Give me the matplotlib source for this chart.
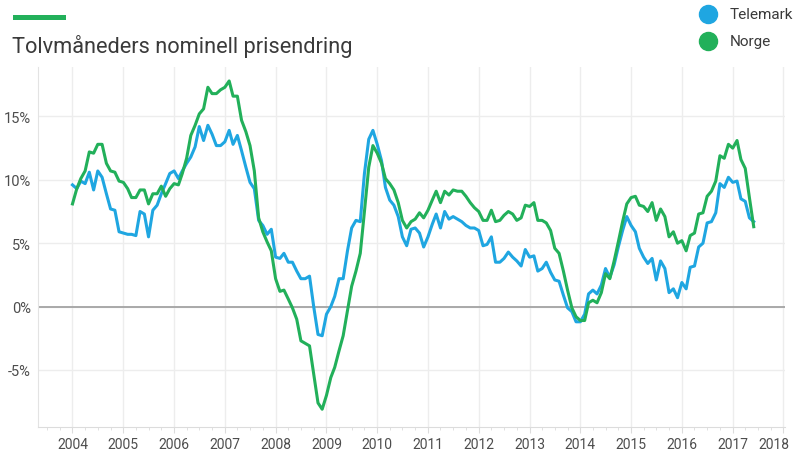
import matplotlib
matplotlib.use("Agg")
import matplotlib.pyplot as plt
import matplotlib.dates as mdates
from matplotlib.lines import Line2D
from matplotlib.patches import Rectangle
import matplotlib.transforms as mtransforms
import numpy as np
import pandas as pd

# ---------------- data ----------------
title = "Tolvmåneders nominell prisendring"
series_names = ["Telemark", "Norge"]
start_month = "2004-01-01"

telemark = [
    9.6, 9.3, 9.9, 9.7, 10.6, 9.2, 10.7, 10.2, 8.9, 7.7, 7.6, 5.9,        # 2004
    5.8, 5.7, 5.7, 5.6, 7.5, 7.3, 5.5, 7.6, 8.0, 8.9, 9.7, 10.5,          # 2005
    10.7, 10.1, 10.7, 11.3, 11.8, 12.6, 14.2, 13.1, 14.3, 13.6, 12.7, 12.7,  # 2006
    13.0, 13.9, 12.8, 13.5, 12.3, 11.0, 9.8, 9.3, 6.8, 6.4, 5.7, 6.1,     # 2007
    3.9, 3.8, 4.2, 3.5, 3.5, 2.8, 2.2, 2.2, 2.4, 0.0, -2.2, -2.3,         # 2008
    -0.6, 0.0, 0.8, 2.2, 2.2, 4.4, 6.2, 6.8, 6.7, 10.5, 13.2, 13.9,       # 2009
    12.8, 11.5, 9.4, 8.4, 8.0, 7.1, 5.5, 4.8, 6.1, 6.2, 5.8, 4.7,         # 2010
    5.5, 6.5, 7.3, 6.2, 7.5, 6.9, 7.1, 6.9, 6.7, 6.4, 6.2, 6.2,           # 2011
    6.0, 4.8, 4.9, 5.5, 3.5, 3.5, 3.8, 4.3, 3.9, 3.6, 3.2, 4.5,           # 2012
    3.9, 4.0, 2.8, 3.0, 3.5, 2.7, 2.1, 2.0, 0.9, -0.1, -0.4, -1.2,        # 2013
    -1.2, -0.6, 1.0, 1.3, 1.0, 1.7, 3.0, 2.3, 3.3, 4.7, 6.0, 7.1,         # 2014
    6.4, 5.9, 4.6, 3.9, 3.4, 3.8, 2.1, 3.6, 3.0, 1.1, 1.4, 0.7,           # 2015
    1.9, 1.4, 3.1, 3.2, 4.7, 5.0, 6.6, 6.7, 7.4, 9.7, 9.4, 10.2,          # 2016
    9.8, 9.9, 8.5, 8.3, 7.0, 6.7,                                         # 2017
]

norge = [
    8.1, 9.3, 10.1, 10.7, 12.2, 12.1, 12.8, 12.8, 11.3, 10.7, 10.6, 9.9,  # 2004
    9.8, 9.3, 8.6, 8.6, 9.2, 9.2, 8.1, 8.9, 8.9, 9.5, 8.7, 9.3,           # 2005
    9.7, 9.6, 10.5, 11.7, 13.5, 14.3, 15.2, 15.6, 17.3, 16.8, 16.8, 17.1, # 2006
    17.3, 17.8, 16.6, 16.6, 14.7, 13.8, 12.7, 10.7, 7.0, 5.9, 5.1, 4.4,   # 2007
    2.2, 1.2, 1.3, 0.6, -0.1, -1.0, -2.7, -2.9, -3.1, -5.3, -7.6, -8.1,   # 2008
    -7.0, -5.6, -4.8, -3.5, -2.3, -0.3, 1.6, 2.8, 4.2, 7.5, 11.0, 12.7,   # 2009
    12.1, 11.3, 10.1, 9.7, 9.2, 8.2, 6.8, 6.2, 6.7, 6.9, 7.4, 7.0,        # 2010
    7.6, 8.4, 9.1, 8.2, 9.1, 8.8, 9.2, 9.1, 9.1, 8.7, 8.2, 7.8,           # 2011
    7.5, 6.8, 6.8, 7.6, 6.7, 6.8, 7.2, 7.5, 7.3, 6.8, 7.0, 8.0,           # 2012
    7.9, 8.2, 6.8, 6.8, 6.6, 6.0, 4.6, 4.2, 2.8, 1.3, -0.1, -0.8,         # 2013
    -1.1, -1.1, 0.3, 0.5, 0.3, 1.1, 2.6, 2.2, 3.6, 5.1, 6.7, 8.1,         # 2014
    8.6, 8.7, 8.0, 7.9, 7.5, 8.2, 6.8, 7.7, 7.1, 5.5, 5.9, 5.0,           # 2015
    5.2, 4.4, 5.6, 5.8, 7.3, 7.4, 8.7, 9.1, 9.9, 11.9, 11.7, 12.8,        # 2016
    12.5, 13.1, 11.6, 10.9, 8.6, 6.3,                                     # 2017
]

year_ticks = list(range(2004, 2019))
y_ticks = [-5, 0, 5, 10, 15]

# ---------------- style ----------------
c_tel = "#1fa6e1"
c_nor = "#22b05a"
txt_col = "#3a3a3a"
tick_col = "#4d4d4d"
grid_col = "#ededed"
FONT = ["Roboto", "DejaVu Sans"]

months = pd.date_range(start_month, periods=len(telemark), freq="MS")

fig = plt.figure(figsize=(7.98, 4.52), dpi=100)
W, H = 798, 452
ax = fig.add_axes([38 / W, 1 - 428 / H, (785 - 38) / W, (428 - 68) / H])

ax.plot(months, telemark, color=c_tel, lw=2.2, solid_joinstyle="round", zorder=3)
ax.plot(months, norge, color=c_nor, lw=2.2, solid_joinstyle="round", zorder=4)

ax.set_xlim(pd.Timestamp("2003-04-28"), pd.Timestamp("2018-01-12"))
ax.set_ylim(-9.5, 18.9)

# grid
ax.set_xticks([pd.Timestamp(f"{y}-01-01") for y in year_ticks])
ax.set_xticklabels([str(y) for y in year_ticks])
ax.xaxis.set_minor_locator(mdates.MonthLocator(bymonth=[4, 7, 10]))
ax.set_yticks(y_ticks)
ax.set_yticklabels([f"{v}%" for v in y_ticks])
ax.grid(True, which="major", color=grid_col, lw=1.0, zorder=0)
ax.axhline(0, color="#a3a3a3", lw=1.3, zorder=2)

for s in ["top", "right"]:
    ax.spines[s].set_visible(False)
ax.spines["left"].set_color("#e3e3e3")
ax.spines["bottom"].set_color("#dcdcdc")

ax.tick_params(axis="y", which="both", length=0, pad=5, labelsize=10.5,
               labelcolor=tick_col)
ax.tick_params(axis="x", which="major", length=4, color="#dcdcdc", pad=3,
               labelsize=10, labelcolor=tick_col)
ax.tick_params(axis="x", which="minor", length=2.5, color="#dcdcdc")
for lab in ax.get_xticklabels() + ax.get_yticklabels():
    lab.set_fontfamily(FONT)

# last year label squeezed inside
last = ax.get_xticklabels()[-1]
last.set_horizontalalignment("right")
last.set_transform(last.get_transform() +
                   mtransforms.ScaledTranslation(4 / 72, 0, fig.dpi_scale_trans))

# title with green bar
fig.add_artist(Rectangle((13 / W, 1 - 21 / H), 53 / W, 5 / H,
                         transform=fig.transFigure, color=c_nor, lw=0))
fig.text(12 / W, 1 - 46 / H, title, fontsize=15.7, color=txt_col,
         family=FONT, ha="left", va="center")

# legend
for name, col, yy in [(series_names[0], c_tel, 15), (series_names[1], c_nor, 42)]:
    fig.add_artist(Line2D([708 / W], [1 - yy / H], marker="o", markersize=13,
                          color=col, transform=fig.transFigure, lw=0))
    fig.text(730 / W, 1 - yy / H, name, fontsize=11, color=txt_col,
             family=FONT, ha="left", va="center")

fig.savefig("out.png", dpi=100, facecolor="white")
